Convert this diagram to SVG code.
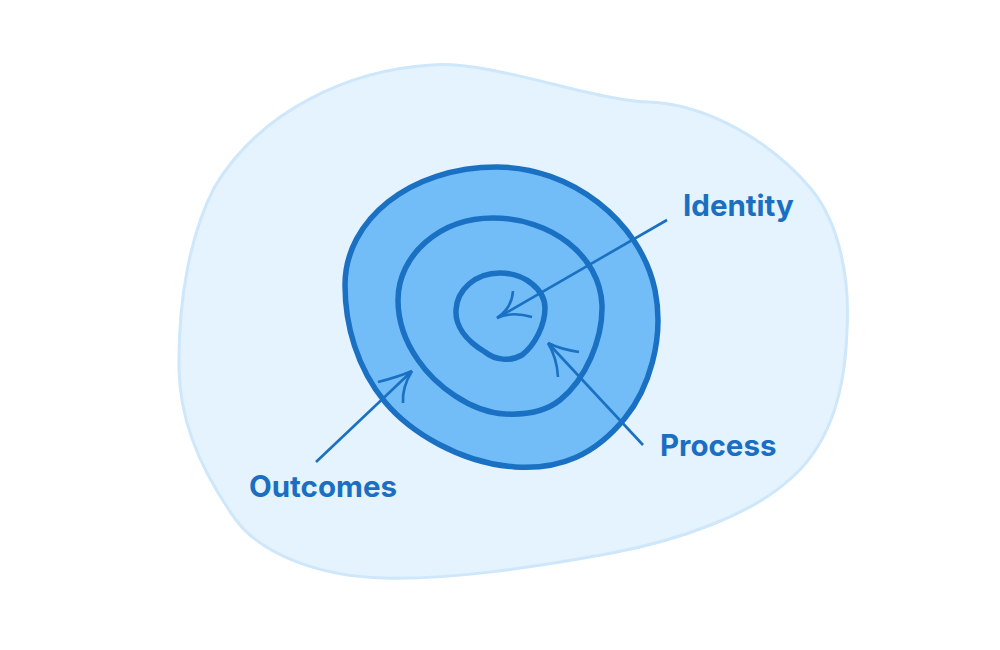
<svg xmlns="http://www.w3.org/2000/svg" width="1000" height="650" viewBox="0 0 1000 650">
<style>
.ring{stroke:#1a70c2;stroke-width:5.5;stroke-linejoin:round}
.inner{fill:none}
.outer{fill:#72bdf8}
.con{fill:none;stroke:#1a70c2;stroke-width:2.6;stroke-linecap:butt}
.lbl{font-family:Inter,"Noto Sans","Liberation Sans",sans-serif;font-weight:700;font-size:29.5px;fill:#1a6fc2}
</style>
<rect width="1000" height="650" fill="#ffffff"/>
<g id="background">
<path d="M 431 65 C 490 60 590 100 648 102 C 710 104 775 145 812 190 C 840 225 850 280 847 330 C 845 400 825 450 789 480 C 750 515 680 540 612 553 C 530 568 450 580 382 578 C 320 576 262 555 236 520 C 200 470 180 420 179 370 C 178 300 190 235 214 188 C 260 110 350 70 431 65 Z" fill="#e4f3fd" stroke="#cfe7fb" stroke-width="3"/>
</g>
<g id="outcomes-ring">
<path d="M 497 167 C 570 167 640 220 655 290 C 665 340 648 390 625 418 C 595 455 560 470 515 467 C 460 463 410 432 385 402 C 357 368 345 325 345 285 C 345 220 410 167 497 167 Z" class="ring outer"/>
</g>
<g id="process-ring">
<path d="M 493 218 C 550 218 600 255 602 305 C 603 340 585 380 560 400 C 545 412 525 415 505 414 C 470 412 435 385 418 360 C 404 340 398 320 398 300 C 398 255 440 218 493 218 Z" class="ring inner"/>
</g>
<g id="identity-ring">
<path d="M 500 273 C 525 273 545 290 545 308 C 545 325 535 345 522 355 C 510 362 495 360 485 352 C 465 340 455 325 456 310 C 457 290 475 273 500 273 Z" class="ring inner"/>
</g>
<g id="connectors">
<path class="con" d="M 667 220 L 497 318"/>
<path class="con" d="M 513 291 Q 512 308 497 318 M 532 317 Q 512 311 497 318"/>
<path class="con" d="M 643 445 L 548 343"/>
<path class="con" d="M 579 352 Q 560 349 548 343 M 558 377 Q 557 358 548 343"/>
<path class="con" d="M 316 462 L 412 371"/>
<path class="con" d="M 378 382 Q 398 377 412 371 M 403 403 Q 402 387 412 371"/>
</g>
<g id="label-identity"><text class="lbl" x="683" y="216">Identity</text></g>
<g id="label-process"><text class="lbl" x="660" y="456">Process</text></g>
<g id="label-outcomes"><text class="lbl" x="249" y="497">Outcomes</text></g>
</svg>
